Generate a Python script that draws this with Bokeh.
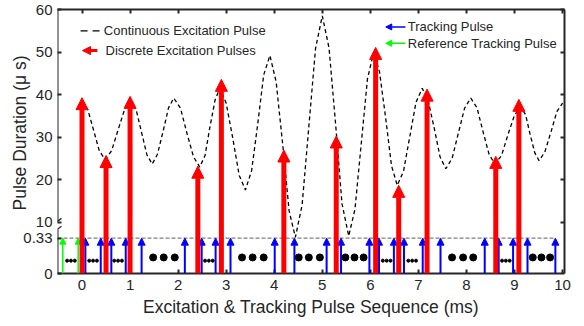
import numpy as np
from bokeh.plotting import figure
from bokeh.models import (Range1d, LinearAxis, FixedTicker, ColumnDataSource, Arrow,
                          NormalHead, Label, Title)
from bokeh.embed import file_html
from bokeh.resources import INLINE

# ---------------- data ----------------
curve_x = [0.0, 0.12, 0.24, 0.36, 0.48,
           0.615, 0.75, 0.885, 1.02,
           1.13, 1.24, 1.35, 1.46,
           1.57, 1.69, 1.80, 1.91,
           2.05, 2.18, 2.32, 2.45,
           2.56, 2.66, 2.77, 2.87,
           3.00, 3.14, 3.27, 3.40,
           3.53, 3.66, 3.78, 3.91,
           4.04, 4.18, 4.31, 4.44,
           4.58, 4.72, 4.86, 5.00,
           5.14, 5.28, 5.41, 5.55,
           5.68, 5.81, 5.94, 6.07,
           6.19, 6.32, 6.44, 6.56,
           6.69, 6.82, 6.95, 7.08,
           7.20, 7.33, 7.45, 7.57,
           7.70, 7.83, 7.96, 8.09,
           8.22, 8.34, 8.47, 8.59,
           8.73, 8.86, 9.00, 9.13,
           9.23, 9.32, 9.42, 9.51,
           9.63, 9.76, 9.88, 10.0]
curve_y = [38.5, 36.5, 31.7, 26.8, 24.8,
           26.8, 31.7, 36.5, 38.5,
           36.3, 31.1, 25.9, 23.7,
           26.0, 31.5, 36.9, 39.2,
           36.8, 31.1, 25.4, 23.0,
           25.7, 32.3, 38.8, 41.5,
           38.0, 29.6, 21.1, 17.6,
           22.2, 33.4, 44.6, 49.2,
           43.0, 27.9, 12.7, 6.5,
           14.1, 32.5, 50.9, 58.5,
           51.0, 32.7, 14.4, 6.8,
           13.1, 28.4, 43.7, 50.0,
           45.4, 34.4, 23.3, 18.7,
           22.0, 30.1, 38.2, 41.5,
           38.7, 32.1, 25.4, 22.6,
           25.0, 30.9, 36.8, 39.2,
           36.9, 31.5, 26.0, 23.7,
           25.7, 30.5, 35.2, 37.2,
           35.3, 30.9, 26.4, 24.5,
           26.5, 31.3, 36.0, 38.0]

red_x = [0.0, 0.5, 1.0, 2.41, 2.9, 4.2, 5.29, 6.11, 6.59, 7.18, 8.61, 9.09]
red_y = [39.3, 25.7, 39.6, 23.2, 43.6, 27.0, 30.3, 51.1, 18.7, 41.3, 25.5, 38.9]

blue_x = [0.07, 0.39, 0.61, 0.91, 1.24, 2.14, 2.49, 2.78, 3.09, 4.01, 4.42,
          5.09, 5.39, 5.98, 6.18, 6.49, 6.70, 7.09, 7.46, 8.38, 8.67, 8.97,
          9.27, 9.85]
green_x = [-0.40, -0.08]
track_level = 0.33

small_dot_x = [-0.31, -0.23, -0.15, 0.15, 0.23, 0.31, 0.67, 0.75, 0.83,
               2.56, 2.64, 2.72, 6.26, 6.34, 6.42, 6.79, 6.87, 6.95,
               8.74, 8.82, 8.90]
big_dot_x = [1.48, 1.70, 1.93, 3.33, 3.55, 3.78, 4.51, 4.72, 4.95,
             5.48, 5.67, 5.86, 7.70, 7.93, 8.14, 9.38, 9.56, 9.74]

x_ticks = [0, 1, 2, 3, 4, 5, 6, 7, 8, 9, 10]
y_ticks = [10, 20, 30, 40, 50, 60]
low_tick_labels = ["0", "0.33"]

legend_texts = ["Continuous Excitation Pulse", "Discrete Excitation Pulses",
                "Tracking Pulse", "Reference Tracking Pulse"]

# ---------------- layout constants ----------------
X_MIN, X_MAX = -0.51, 10.04
Y_MIN, Y_MAX = -2, 60.0          # main (upper) scale; bottom of frame
BREAK_MAIN = 6.3                 # main-scale position of the 0.33 level
LOW_MAX = track_level * (Y_MAX - Y_MIN) / (BREAK_MAIN - Y_MIN)
BREAK_HI, BREAK_LO = 10.26, 8.41  # axis-line gap (main scale)
DOT_Y_SMALL, DOT_Y_BIG = 0.12, 0.15

FONT = "Liberation Sans"
AX = "#262626"
RED, BLUE, GREEN = "#FF0000", "#0000FF", "#00FF00"

p = figure(width=584, height=326, x_range=Range1d(X_MIN, X_MAX),
           y_range=Range1d(Y_MIN, Y_MAX), output_backend="svg",
           toolbar_location=None, min_border_left=57, min_border_right=20,
           min_border_top=9, min_border_bottom=53)
p.extra_y_ranges = {"low": Range1d(0, LOW_MAX)}
p.grid.visible = False
p.outline_line_color = None
p.background_fill_color = "white"
p.border_fill_color = "white"


def style_axis(ax):
    ax.axis_line_color = AX
    ax.axis_line_width = 2
    ax.major_tick_in = 4
    ax.major_tick_out = 0
    ax.major_tick_line_color = AX
    ax.major_tick_line_width = 2
    ax.minor_tick_in = 4
    ax.minor_tick_out = 0
    ax.minor_tick_line_color = AX
    ax.minor_tick_line_width = 2
    ax.major_label_text_font = FONT
    ax.major_label_text_font_size = "15px"
    ax.major_label_text_color = AX
    ax.major_label_standoff = 5


# bottom axis
xa = p.xaxis[0]
style_axis(xa)
xa.ticker = FixedTicker(ticks=x_ticks)
xa.major_label_standoff = 6
xa.axis_label = "Excitation & Tracking Pulse Sequence (ms)"
xa.axis_label_text_font = FONT
xa.axis_label_text_font_size = "17.5px"
xa.axis_label_text_font_style = "normal"
xa.axis_label_text_color = AX
xa.axis_label_standoff = 4

# left axis: ticks + labels (line drawn separately, with a break)
ya = p.yaxis[0]
style_axis(ya)
ya.axis_line_color = None
ya.ticker = FixedTicker(ticks=[Y_MIN, BREAK_MAIN] + y_ticks)
ya.major_label_overrides = {Y_MIN: low_tick_labels[0], BREAK_MAIN: low_tick_labels[1]}

# broken left axis line (two segments, drawn at the frame edge)
for lo, hi in ((BREAK_HI, Y_MAX), (Y_MIN, BREAK_LO)):
    seg = LinearAxis(fixed_location=X_MIN, bounds=(lo, hi),
                     ticker=FixedTicker(ticks=[]))
    style_axis(seg)
    seg.major_label_standoff = 0
    p.add_layout(seg, "left")

# mirrored ticks on top and right (minor ticks only -> no labels)
top_ax = LinearAxis(ticker=FixedTicker(ticks=[], minor_ticks=x_ticks))
style_axis(top_ax)
top_ax.major_label_standoff = 0
p.add_layout(top_ax, "above")
right_ax = LinearAxis(ticker=FixedTicker(ticks=[], minor_ticks=y_ticks))
style_axis(right_ax)
right_ax.major_label_standoff = 0
p.add_layout(right_ax, "right")

# y axis title
ytitle = Title(text="Pulse Duration (\u03bc s)", align="left", offset=63,
               vertical_align="bottom", text_font=FONT, text_font_size="17.5px",
               text_font_style="normal", text_color=AX)
try:
    ytitle.standoff = -19
except Exception:
    ytitle.standoff = 0
p.add_layout(ytitle, "left")

# break marks
for yc in (BREAK_HI, BREAK_LO):
    p.add_layout(Arrow(start=None, end=None, x_start=X_MIN - 0.083, y_start=yc - 0.69,
                       x_end=X_MIN + 0.083, y_end=yc + 0.69, line_color=AX,
                       line_width=1.3))

# continuous excitation pulse
p.line(curve_x, curve_y, line_color="black", line_dash="4 3", line_width=1.3)

# 0.33 reference level
p.segment(x0=[X_MIN], y0=[track_level], x1=[max(blue_x)], y1=[track_level],
          y_range_name="low", line_color="#808080", line_dash="4 2", line_width=1.2)

# ellipsis dots
p.scatter(small_dot_x, [DOT_Y_SMALL] * len(small_dot_x), y_range_name="low",
          size=3, color="black")
p.scatter(big_dot_x, [DOT_Y_BIG] * len(big_dot_x), y_range_name="low",
          size=7, color="black")

# tracking pulses
blue_src = ColumnDataSource(dict(x=blue_x, y0=[0] * len(blue_x),
                                 y1=[track_level] * len(blue_x)))
p.add_layout(Arrow(source=blue_src, x_start="x", y_start="y0", x_end="x", y_end="y1",
                   y_range_name="low", line_color=BLUE, line_width=2,
                   end=NormalHead(size=7, fill_color=BLUE, line_color=BLUE)))
green_src = ColumnDataSource(dict(x=green_x, y0=[0] * len(green_x),
                                  y1=[track_level] * len(green_x)))
p.add_layout(Arrow(source=green_src, x_start="x", y_start="y0", x_end="x", y_end="y1",
                   y_range_name="low", line_color=GREEN, line_width=1.5,
                   end=NormalHead(size=6, fill_color=GREEN, line_color=GREEN)))

# discrete excitation pulses
red_src = ColumnDataSource(dict(x=red_x, y=red_y))
p.add_layout(Arrow(source=red_src, x_start="x", y_start=Y_MIN, x_end="x", y_end="y",
                   line_color=RED, line_width=5,
                   end=NormalHead(size=12, fill_color=RED, line_color=RED)))

# legends (manual)
LEG = dict(text_font=FONT, text_font_size="13px", text_color=AX,
           text_baseline="middle", text_align="left")
p.add_layout(Arrow(start=None, end=None, x_start=-0.03, y_start=54.98, x_end=0.385,
                   y_end=54.98, line_color="black", line_width=1.3, line_dash="7 5"))
p.add_layout(Label(x=0.454, y=54.98, text=legend_texts[0], **LEG))
p.add_layout(Arrow(x_start=0.32, y_start=50.35, x_end=0.01, y_end=50.35,
                   line_color=RED, line_width=3,
                   end=NormalHead(size=8, fill_color=RED, line_color=RED)))
p.add_layout(Label(x=0.489, y=50.35, text=legend_texts[1], **LEG))
p.add_layout(Arrow(x_start=6.73, y_start=55.9, x_end=6.32, y_end=55.9,
                   line_color=BLUE, line_width=1.5,
                   end=NormalHead(size=6, fill_color=BLUE, line_color=BLUE)))
p.add_layout(Label(x=6.78, y=55.9, text=legend_texts[2], **LEG))
p.add_layout(Arrow(x_start=6.73, y_start=52.06, x_end=6.32, y_end=52.06,
                   line_color=GREEN, line_width=1.5,
                   end=NormalHead(size=6, fill_color=GREEN, line_color=GREEN)))
p.add_layout(Label(x=6.78, y=52.06, text=legend_texts[3], **LEG))

open("out.html", "w").write(file_html(p, INLINE))
